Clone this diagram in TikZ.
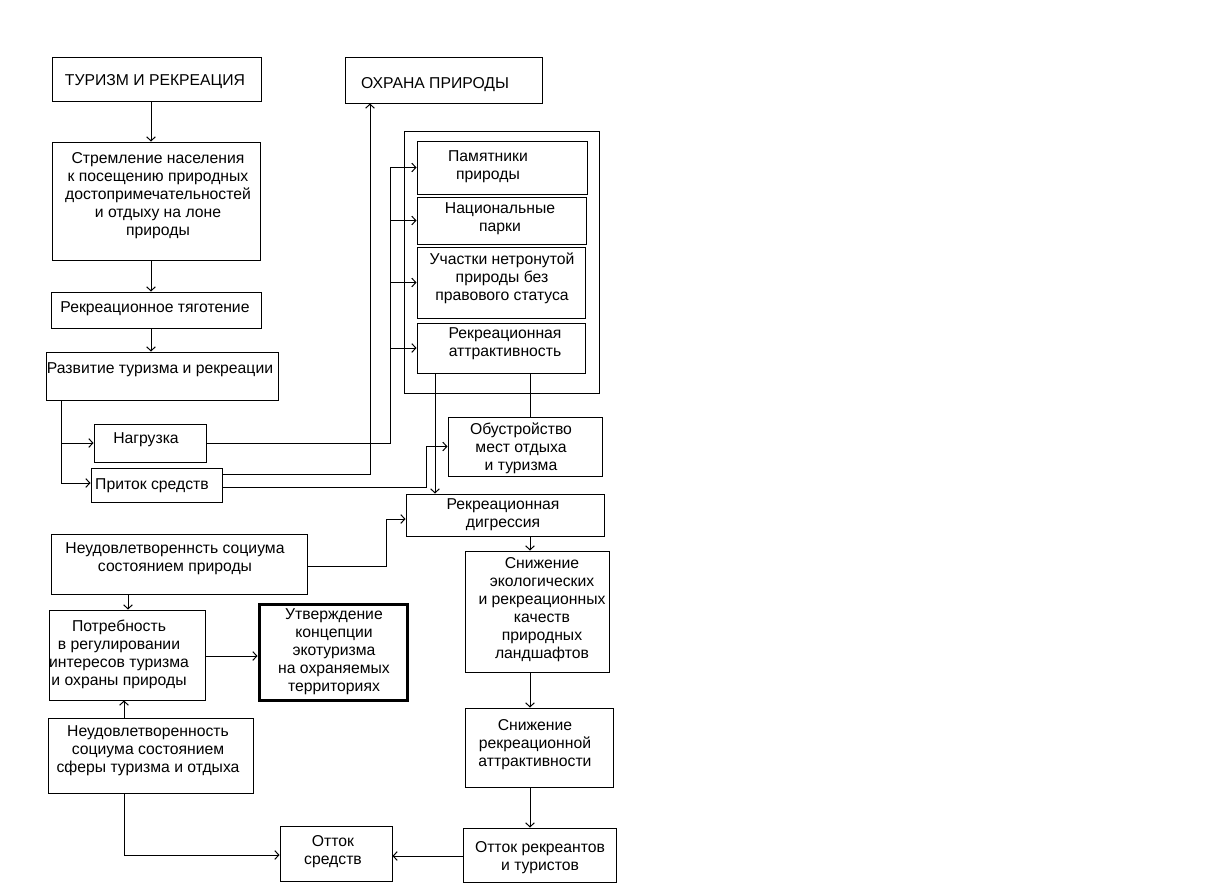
\documentclass[tikz,border=0pt]{standalone}
\usepackage{fontspec}
\setmainfont{Liberation Sans}
\usetikzlibrary{arrows.meta}
\begin{document}
\begin{tikzpicture}[x=0.75pt,y=-0.75pt,
  box/.style={draw, line width=0.75pt, inner sep=0pt},
  bold box/.style={draw, line width=2.25pt, inner sep=0pt},
  txt/.style={align=center, inner sep=0pt, yshift=-1.6pt, font=\fontsize{11.8}{13.5}\selectfont},
  arr/.style={line width=0.75pt, -{Straight Barb[length=3pt,width=6.5pt]}},
  ln/.style={line width=0.75pt}]
\useasboundingbox[fill=white] (0,0) rectangle (1218,893);
% boxes
\node[box, minimum width=209*0.75pt, minimum height=44*0.75pt] (b1) at (156.5,79) {};
\node[box, minimum width=197*0.75pt, minimum height=46*0.75pt] (b2) at (443.5,80) {};
\node[box, minimum width=208*0.75pt, minimum height=118*0.75pt] (b3) at (156,201) {};
\node[box, minimum width=210*0.75pt, minimum height=36*0.75pt] (b4) at (156,310) {};
\node[box, minimum width=232*0.75pt, minimum height=48*0.75pt] (b5) at (162,376) {};
\node[box, minimum width=112*0.75pt, minimum height=38*0.75pt] (b6) at (150,443) {};
\node[box, minimum width=131*0.75pt, minimum height=34*0.75pt] (b7) at (156.5,485) {};
\node[box, minimum width=195*0.75pt, minimum height=262*0.75pt] (b8) at (501.5,262) {};
\node[box, minimum width=170*0.75pt, minimum height=53*0.75pt] (b9) at (502,167.5) {};
\node[box, minimum width=169*0.75pt, minimum height=47*0.75pt] (b10) at (501.5,220.5) {};
\node[box, minimum width=168*0.75pt, minimum height=71*0.75pt] (b11) at (501,282.5) {};
\node[box, minimum width=168*0.75pt, minimum height=50*0.75pt] (b12) at (501,348) {};
\node[box, minimum width=154*0.75pt, minimum height=59*0.75pt] (b13) at (525,446.5) {};
\node[box, minimum width=198*0.75pt, minimum height=42*0.75pt] (b14) at (505,515) {};
\node[box, minimum width=256*0.75pt, minimum height=60*0.75pt] (b15) at (179,564) {};
\node[box, minimum width=144*0.75pt, minimum height=121*0.75pt] (b16) at (537,611.5) {};
\node[box, minimum width=156*0.75pt, minimum height=90*0.75pt] (b17) at (127,655) {};
\node[bold box, minimum width=148*0.75pt, minimum height=96*0.75pt] (b18) at (333,652) {};
\node[box, minimum width=205*0.75pt, minimum height=75*0.75pt] (b19) at (150.5,755.5) {};
\node[box, minimum width=148*0.75pt, minimum height=79*0.75pt] (b20) at (539,747.5) {};
\node[box, minimum width=112*0.75pt, minimum height=55*0.75pt] (b21) at (336,853.5) {};
\node[box, minimum width=153*0.75pt, minimum height=54*0.75pt] (b22) at (539.5,855) {};
% texts
\node[txt] (t1) at (155,79) {ТУРИЗМ И РЕКРЕАЦИЯ};
\node[txt] (t2) at (435,82) {ОХРАНА ПРИРОДЫ};
\node[txt] (t3) at (158,194) {Стремление населения\\к посещению природных\\достопримечательностей\\и отдыху на лоне\\природы};
\node[txt] (t4) at (155,307) {Рекреационное тяготение};
\node[txt] (t5) at (160,368) {Развитие туризма и рекреации};
\node[txt] (t6) at (146,438) {Нагрузка};
\node[txt] (t7) at (152,484) {Приток средств};
\node[txt] (t9) at (488,165) {Памятники\\природы};
\node[txt] (t10) at (500,217) {Национальные\\парки};
\node[txt] (t11) at (502,276) {Участки нетронутой\\природы без\\правового статуса};
\node[txt] (t12) at (505,342) {Рекреационная\\аттрактивность};
\node[txt] (t13) at (521,446) {Обустройство\\мест отдыха\\и туризма};
\node[txt] (t14) at (503,513) {Рекреационная\\дигрессия};
\node[txt] (t15) at (175,557) {Неудовлетвореннсть социума\\состоянием природы};
\node[txt] (t16) at (542,607) {Снижение\\экологических\\и рекреационных\\качеств\\природных\\ландшафтов};
\node[txt] (t17) at (119,652) {Потребность\\в регулировании\\интересов туризма\\и охраны природы};
\node[txt] (t18) at (334,650) {Утверждение\\концепции\\экотуризма\\на охраняемых\\территориях};
\node[txt] (t19) at (148,749) {Неудовлетворенность\\социума состоянием\\сферы туризма и отдыха};
\node[txt] (t20) at (535,742) {Снижение\\рекреационной\\аттрактивности};
\node[txt] (t21) at (333,849) {Отток\\средств};
\node[txt] (t22) at (540,855) {Отток рекреантов\\и туристов};
% connectors
\draw[arr] (b1.south -| 151,0) -- (b3.north -| 151,0);
\draw[arr] (b3.south -| 151,0) -- (b4.north -| 151,0);
\draw[arr] (b4.south -| 151,0) -- (b5.north -| 151,0);
\draw[ln] (b5.south -| 61,0) -- (61,483);
\draw[arr] (61,443) -- (b6.west);
\draw[arr] (61,483) -- (b7.west |- 0,483);
\draw[arr] (b6.east) -| (b9.west -| 390,0) -- (b9.west);
\draw[arr] (b10.west -| 390,0) -- (b10.west);
\draw[arr] (b11.west -| 390,0) -- (b11.west);
\draw[arr] (b12.west -| 390,0) -- (b12.west);
\draw[arr] (b7.east |- 0,474) -| (b2.south -| 370,0);
\draw[arr] (b7.east |- 0,487) -| (b13.west -| 426,0) -- (b13.west);
\draw[arr] (b12.south -| 435,0) -- (b14.north -| 435,0);
\draw[ln] (b12.south -| 530,0) -- (b13.north -| 530,0);
\draw[arr] (b15.east |- 0,566) -| (386,519) -- (b14.west |- 0,519);
\draw[arr] (b14.south -| 530,0) -- (b16.north -| 530,0);
\draw[arr] (b16.south -| 530,0) -- (b20.north -| 530,0);
\draw[arr] (b20.south -| 530,0) -- (b22.north -| 530,0);
\draw[arr] (b22.west |- 0,856) -- (b21.east |- 0,856);
\draw[arr] (b19.south -| 124,0) |- (b21.west |- 0,855);
\draw[arr] (b19.north -| 124,0) -- (b17.south -| 124,0);
\draw[arr] (b15.south -| 128,0) -- (b17.north -| 128,0);
\draw[arr] (b17.east |- 0,656) -- (b18.west |- 0,656);
\end{tikzpicture}
\end{document}
